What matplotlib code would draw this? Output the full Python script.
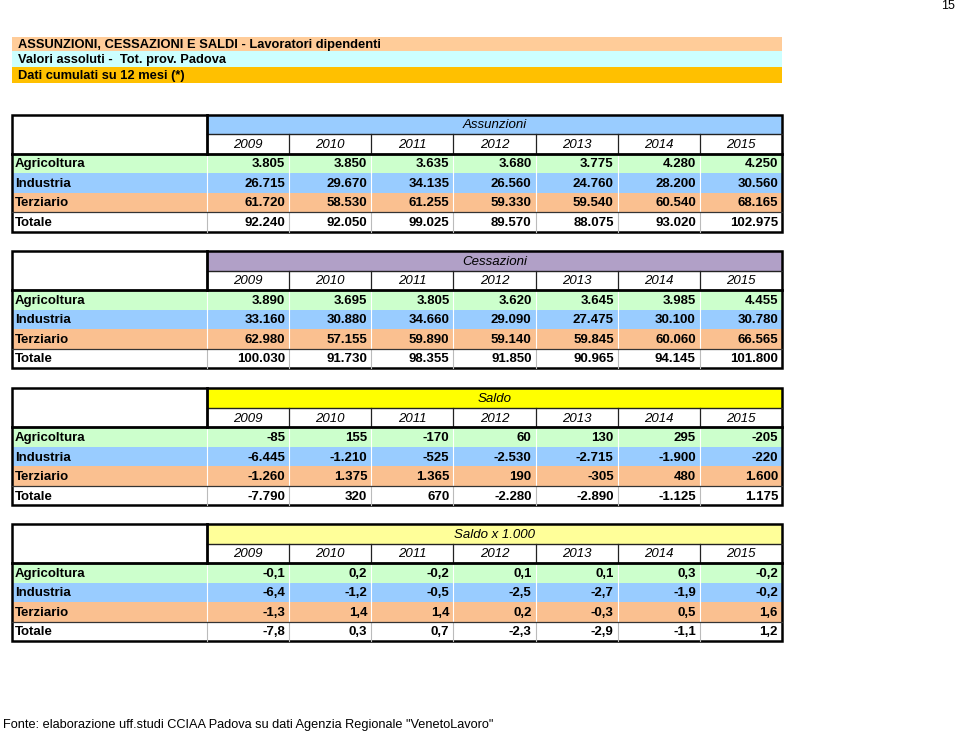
import matplotlib.pyplot as plt
from matplotlib.patches import Rectangle

plt.rcParams['font.family'] = ['Liberation Sans', 'DejaVu Sans']

# data
years = ['2009', '2010', '2011', '2012', '2013', '2014', '2015']
sectors = ['Agricoltura', 'Industria', 'Terziario', 'Totale']
titles = ['Assunzioni', 'Cessazioni', 'Saldo', 'Saldo x 1.000']

ass_agri = [3805, 3850, 3635, 3680, 3775, 4280, 4250]
ass_ind = [26715, 29670, 34135, 26560, 24760, 28200, 30560]
ass_ter = [61720, 58530, 61255, 59330, 59540, 60540, 68165]
ass_tot = [92240, 92050, 99025, 89570, 88075, 93020, 102975]

ces_agri = [3890, 3695, 3805, 3620, 3645, 3985, 4455]
ces_ind = [33160, 30880, 34660, 29090, 27475, 30100, 30780]
ces_ter = [62980, 57155, 59890, 59140, 59845, 60060, 66565]
ces_tot = [100030, 91730, 98355, 91850, 90965, 94145, 101800]

sal_agri = [-85, 155, -170, 60, 130, 295, -205]
sal_ind = [-6445, -1210, -525, -2530, -2715, -1900, -220]
sal_ter = [-1260, 1375, 1365, 190, -305, 480, 1600]
sal_tot = [-7790, 320, 670, -2280, -2890, -1125, 1175]

sk_agri = [-0.1, 0.2, -0.2, 0.1, 0.1, 0.3, -0.2]
sk_ind = [-6.4, -1.2, -0.5, -2.5, -2.7, -1.9, -0.2]
sk_ter = [-1.3, 1.4, 1.4, 0.2, -0.3, 0.5, 1.6]
sk_tot = [-7.8, 0.3, 0.7, -2.3, -2.9, -1.1, 1.2]

tables = [
    [ass_agri, ass_ind, ass_ter, ass_tot],
    [ces_agri, ces_ind, ces_ter, ces_tot],
    [sal_agri, sal_ind, sal_ter, sal_tot],
    [sk_agri, sk_ind, sk_ter, sk_tot],
]


def fmt_int(v):
    return f"{v:,}".replace(",", ".")


def fmt_dec(v):
    return f"{v:.1f}".replace(".", ",")


formatters = [fmt_int, fmt_int, fmt_int, fmt_dec]

head_colors = ['#99CCFF', '#B1A0C7', '#FFFF00', '#FFFF99']
row_colors = ['#CCFFCC', '#99CCFF', '#FAC090', 'white']

fig = plt.figure(figsize=(9.6, 7.34), dpi=100)
ax = fig.add_axes([0, 0, 1, 1])
ax.set_xlim(0, 960)
ax.set_ylim(734, 0)
ax.axis('off')

fs = 9.5

# title bands
left, right = 12, 782
bands = [(36.5, 50.7, '#FFCC99', 'ASSUNZIONI, CESSAZIONI E SALDI - Lavoratori dipendenti'),
         (50.7, 67, '#CCFFFF', 'Valori assoluti -  Tot. prov. Padova'),
         (67, 83, '#FFC000', 'Dati cumulati su 12 mesi (*)')]
for y0, y1, c, t in bands:
    ax.add_patch(Rectangle((left, y0), right - left, y1 - y0, facecolor=c, edgecolor='none'))
    ax.text(18, (y0 + y1) / 2 + 1, t, fontsize=9.3, weight='bold', va='center', ha='left')

ax.text(948, 6, '15', fontsize=9, ha='center', va='center')

lab_x = 207
col_w = (right - lab_x) / 7
rh = 19.5
tops = [114.7, 251, 388.3, 524]

for k, top in enumerate(tops):
    fmt = formatters[k]
    # header band
    ax.add_patch(Rectangle((lab_x, top), right - lab_x, rh, facecolor=head_colors[k], edgecolor='none'))
    ax.text((lab_x + right) / 2, top + rh / 2 + 1, titles[k], fontsize=fs, style='italic',
            ha='center', va='center')
    # year row
    yr_top = top + rh
    for j, yv in enumerate(years):
        cx = lab_x + col_w * (j + 0.5)
        ax.text(cx, yr_top + rh / 2 + 1, yv, fontsize=fs, style='italic', ha='center', va='center')
        if j > 0:
            ax.plot([lab_x + col_w * j] * 2, [yr_top, yr_top + rh], color='#222222', lw=0.9)
    # data rows
    for i, name in enumerate(sectors):
        y0 = top + rh * (2 + i)
        ax.add_patch(Rectangle((left, y0), right - left, rh, facecolor=row_colors[i], edgecolor='none'))
        ax.text(15, y0 + rh / 2 + 1, name, fontsize=fs, weight='bold', ha='left', va='center')
        vals = tables[k][i]
        for j, v in enumerate(vals):
            xr = lab_x + col_w * (j + 1) - 4
            ax.text(xr, y0 + rh / 2 + 1, fmt(v), fontsize=fs, weight='bold', ha='right', va='center')
        sep = 'white' if i < 3 else '#BBBBBB'
        for j in range(7):
            xs = lab_x + col_w * j
            ax.plot([xs, xs], [y0, y0 + rh], color=sep, lw=0.8)
    # borders
    bottom = top + rh * 6
    ax.plot([lab_x, right], [yr_top, yr_top], color='#222222', lw=1.0)
    ax.plot([left, right], [top + 2 * rh, top + 2 * rh], color='black', lw=2.0)
    ax.plot([left, right], [top + 5 * rh, top + 5 * rh], color='#333333', lw=0.9)
    ax.plot([lab_x, lab_x], [top, top + 2 * rh], color='black', lw=2.0)
    ax.add_patch(Rectangle((left, top), right - left, bottom - top, facecolor='none',
                           edgecolor='black', lw=1.8))

ax.text(3, 725, 'Fonte: elaborazione uff.studi CCIAA Padova su dati Agenzia Regionale "VenetoLavoro"',
        fontsize=9.2, ha='left', va='center')

fig.savefig('out.png', dpi=100)
